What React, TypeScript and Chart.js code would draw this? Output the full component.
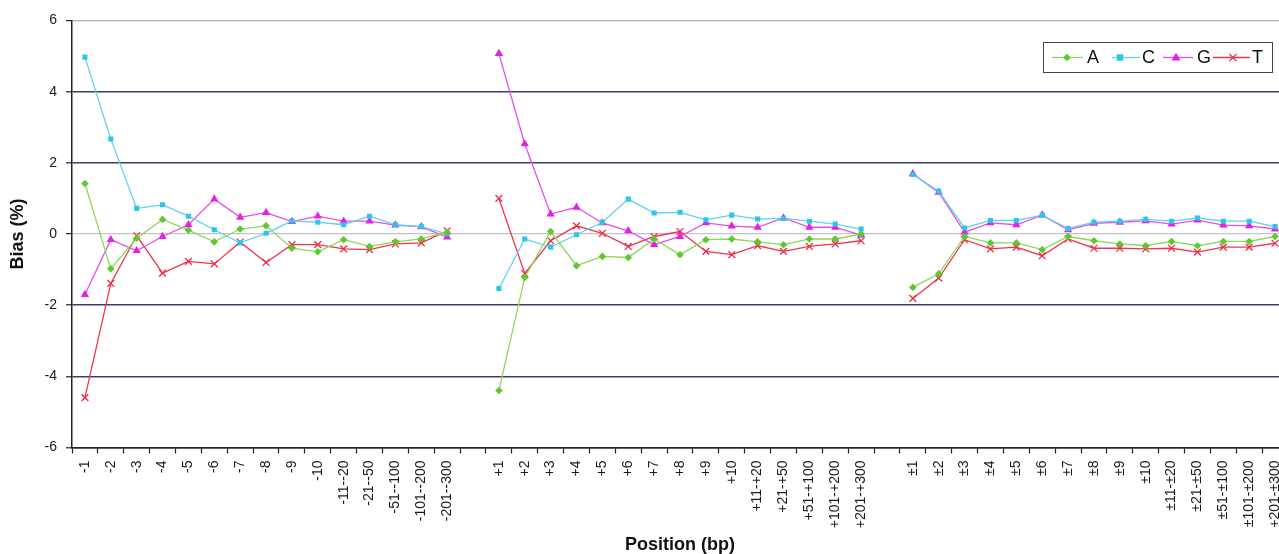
import React, { useEffect, useRef } from "react";
import { Chart, registerables } from "chart.js";

Chart.register(...registerables);

// ---------- data ----------
const upstreamLabels = ["-1", "-2", "-3", "-4", "-5", "-6", "-7", "-8", "-9", "-10", "-11--20", "-21--50", "-51--100", "-101--200", "-201--300"];
const downstreamLabels = ["+1", "+2", "+3", "+4", "+5", "+6", "+7", "+8", "+9", "+10", "+11-+20", "+21-+50", "+51-+100", "+101-+200", "+201-+300"];
const bothLabels = ["±1", "±2", "±3", "±4", "±5", "±6", "±7", "±8", "±9", "±10", "±11-±20", "±21-±50", "±51-±100", "±101-±200", "+201-±300"];

const aUp = [1.42, -0.98, -0.12, 0.41, 0.11, -0.22, 0.14, 0.23, -0.4, -0.5, -0.16, -0.35, -0.22, -0.14, 0.05];
const cUp = [4.97, 2.67, 0.72, 0.82, 0.5, 0.12, -0.25, 0.02, 0.37, 0.33, 0.26, 0.5, 0.26, 0.21, 0.0];
const gUp = [-1.7, -0.16, -0.47, -0.07, 0.26, 0.98, 0.47, 0.6, 0.35, 0.5, 0.36, 0.36, 0.25, 0.2, -0.09];
const tUp = [-4.6, -1.39, -0.05, -1.1, -0.77, -0.84, -0.23, -0.8, -0.3, -0.3, -0.42, -0.44, -0.28, -0.25, 0.09];

const aDown = [-4.4, -1.22, 0.07, -0.89, -0.63, -0.66, -0.14, -0.58, -0.16, -0.14, -0.22, -0.3, -0.14, -0.14, 0.0];
const cDown = [-1.53, -0.14, -0.37, -0.02, 0.33, 0.98, 0.59, 0.61, 0.4, 0.53, 0.42, 0.44, 0.36, 0.28, 0.14];
const gDown = [5.07, 2.53, 0.56, 0.75, 0.31, 0.09, -0.3, -0.07, 0.31, 0.22, 0.19, 0.45, 0.19, 0.19, -0.03];
const tDown = [1.0, -1.11, -0.19, 0.23, 0.02, -0.35, -0.07, 0.07, -0.49, -0.58, -0.33, -0.49, -0.35, -0.28, -0.19];

const aBoth = [-1.5, -1.12, -0.07, -0.25, -0.25, -0.44, -0.07, -0.19, -0.28, -0.33, -0.21, -0.33, -0.21, -0.21, -0.07];
const cBoth = [1.67, 1.2, 0.17, 0.38, 0.38, 0.53, 0.15, 0.33, 0.36, 0.41, 0.36, 0.45, 0.36, 0.36, 0.21];
const gBoth = [1.69, 1.17, 0.05, 0.31, 0.26, 0.53, 0.12, 0.3, 0.33, 0.37, 0.28, 0.39, 0.25, 0.23, 0.14];
const tBoth = [-1.81, -1.24, -0.16, -0.42, -0.37, -0.61, -0.14, -0.4, -0.4, -0.42, -0.4, -0.51, -0.37, -0.37, -0.26];

const seriesNames = ["A", "C", "G", "T"];
const yTicks = [-6, -4, -2, 0, 2, 4, 6];

// ---------- derived ----------
const categories = [...upstreamLabels, "", ...downstreamLabels, "", ...bothLabels];
const join = (u: number[], d: number[], b: number[]) => [...u, null, ...d, null, ...b];

const FONT = "'Liberation Sans', Arial, Helvetica, sans-serif";

const styles = [
  { line: "#8fd659", point: "#5ec92e", pointStyle: "rectRot", radius: 3.8 },
  { line: "#5fd3ef", point: "#2ec4ec", pointStyle: "rect", radius: 3.6 },
  { line: "#e84fe8", point: "#e61fe6", pointStyle: "triangle", radius: 4.8 },
  { line: "#ef3550", point: "#ee2a48", pointStyle: "crossRot", radius: 4.8 },
];

function drawMarker(ctx: CanvasRenderingContext2D, style: string, x: number, y: number, r: number, color: string) {
  ctx.save();
  ctx.fillStyle = color;
  ctx.strokeStyle = color;
  ctx.lineWidth = 1.3;
  ctx.beginPath();
  if (style === "rectRot") {
    ctx.moveTo(x, y - r);
    ctx.lineTo(x + r, y);
    ctx.lineTo(x, y + r);
    ctx.lineTo(x - r, y);
    ctx.closePath();
    ctx.fill();
  } else if (style === "rect") {
    ctx.rect(x - r * 0.9, y - r * 0.9, r * 1.8, r * 1.8);
    ctx.fill();
  } else if (style === "triangle") {
    ctx.moveTo(x, y - r);
    ctx.lineTo(x + r * 0.95, y + r * 0.6);
    ctx.lineTo(x - r * 0.95, y + r * 0.6);
    ctx.closePath();
    ctx.fill();
  } else {
    const d = r * 0.75;
    ctx.moveTo(x - d, y - d);
    ctx.lineTo(x + d, y + d);
    ctx.moveTo(x + d, y - d);
    ctx.lineTo(x - d, y + d);
    ctx.stroke();
  }
  ctx.restore();
}

const boxLegend = {
  id: "boxLegend",
  afterDraw(chart: any) {
    const ctx: CanvasRenderingContext2D = chart.ctx;
    const bx = 1043.5, by = 42.5, bw = 229, bh = 30;
    const cy = by + bh / 2;
    ctx.save();
    ctx.fillStyle = "#ffffff";
    ctx.fillRect(bx, by, bw, bh);
    ctx.strokeStyle = "#444";
    ctx.lineWidth = 1;
    ctx.strokeRect(bx, by, bw, bh);
    const items = [
      { l0: 1052, l1: 1083, m: 1067, t: 1087 },
      { l0: 1112, l1: 1140, m: 1120, t: 1142 },
      { l0: 1163, l1: 1193, m: 1176, t: 1197 },
      { l0: 1213, l1: 1250, m: 1233, t: 1252 },
    ];
    chart.data.datasets.forEach((ds: any, i: number) => {
      const it = items[i];
      const st = styles[i];
      ctx.strokeStyle = st.line;
      ctx.lineWidth = 1.3;
      ctx.beginPath();
      ctx.moveTo(it.l0, cy);
      ctx.lineTo(it.l1, cy);
      ctx.stroke();
      drawMarker(ctx, st.pointStyle, it.m, cy, st.radius, st.point);
      ctx.fillStyle = "#111";
      ctx.font = `18px ${FONT}`;
      ctx.textBaseline = "middle";
      ctx.textAlign = "left";
      ctx.fillText(ds.label, it.t, cy + 1);
    });
    ctx.restore();
  },
};

export default function App() {
  const ref = useRef<HTMLCanvasElement | null>(null);

  useEffect(() => {
    if (!ref.current) return;
    const values = [join(aUp, aDown, aBoth), join(cUp, cDown, cBoth), join(gUp, gDown, gBoth), join(tUp, tDown, tBoth)];
    const chart = new Chart(ref.current, {
      type: "line",
      data: {
        labels: categories,
        datasets: seriesNames.map((name, i) => ({
          label: name,
          data: values[i],
          borderColor: styles[i].line,
          backgroundColor: styles[i].point,
          pointBackgroundColor: styles[i].point,
          pointBorderColor: styles[i].point,
          pointStyle: styles[i].pointStyle as any,
          pointRadius: styles[i].radius,
          pointBorderWidth: styles[i].pointStyle === "crossRot" ? 1.3 : 0,
          borderWidth: 1.3,
          spanGaps: false,
          tension: 0,
          fill: false,
        })),
      },
      options: {
        responsive: false,
        animation: false,
        devicePixelRatio: 1,
        layout: { padding: { left: 9, top: 20.5, right: 12, bottom: 0 } },
        plugins: {
          legend: { display: false },
          tooltip: { enabled: false },
        },
        scales: {
          x: {
            type: "category",
            offset: true,
            grid: {
              display: true,
              drawOnChartArea: false,
              drawTicks: true,
              tickLength: 6,
              tickColor: "#222",
              tickWidth: 1.2,
              offset: true,
            },
            border: { display: true, color: "#222", width: 1.5 },
            ticks: {
              autoSkip: false,
              maxRotation: 90,
              minRotation: 90,
              padding: 7,
              color: "#1a1a1a",
              font: { family: FONT, size: 14 },
            },
            title: {
              display: true,
              text: "Position (bp)",
              color: "#111",
              font: { family: FONT, size: 18, weight: "bold", lineHeight: 1 },
              padding: { top: 0, bottom: 0 },
            },
            afterFit(scale: any) {
              scale.height = 106.5;
            },
          },
          y: {
            min: -6,
            max: 6,
            afterBuildTicks(scale: any) {
              scale.ticks = yTicks.map((v) => ({ value: v }));
            },
            grid: {
              color: (ctx: any) => {
                const v = ctx.tick?.value;
                if (v === 0) return "#c4c4cc";
                if (v === 6) return "#b0b0bc";
                return "#3b3e6c";
              },
              lineWidth: (ctx: any) => {
                const v = ctx.tick?.value;
                if (v === 0 || v === 6) return 1.2;
                return 1.6;
              },
              drawTicks: true,
              tickLength: 6,
              tickColor: "#222",
              tickWidth: 1.2,
            },
            border: { display: true, color: "#222", width: 1.5 },
            ticks: {
              padding: 9,
              color: "#1a1a1a",
              font: { family: FONT, size: 14 },
            },
            title: {
              display: true,
              text: "Bias (%)",
              color: "#111",
              font: { family: FONT, size: 18, weight: "bold", lineHeight: 1 },
              padding: { top: 0, bottom: 0 },
            },
            afterFit(scale: any) {
              scale.width = 63;
            },
          },
        },
      },
      plugins: [boxLegend],
    });
    return () => chart.destroy();
  }, []);

  return (
    <div style={{ position: "absolute", left: 0, top: 0, width: 1279, height: 554, overflow: "hidden", background: "#fff" }}>
      <canvas ref={ref} width={1300} height={554} style={{ display: "block", width: 1300, height: 554 }} />
    </div>
  );
}
